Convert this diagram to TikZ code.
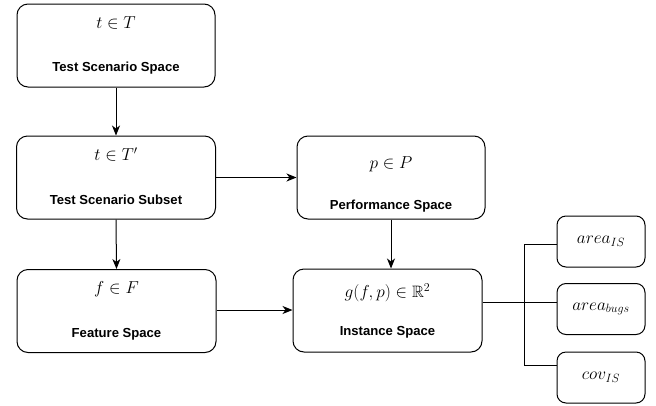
\documentclass[tikz,border=0pt]{standalone}
\usepackage{amssymb}
\usepackage{fontspec}
\setsansfont{Liberation Sans}
\usetikzlibrary{arrows.meta,calc}
\tikzset{
  bigbox/.style={draw, line width=1pt, rounded corners=11pt, inner sep=0pt, minimum width=#1, minimum height=83pt},
  smallbox/.style={draw, line width=1pt, rounded corners=9pt, inner sep=0pt, minimum width=88pt, minimum height=51pt, font=\fontsize{16.5}{18}\selectfont},
  mathtxt/.style={inner sep=0pt, font=\fontsize{16.5}{18}\selectfont},
  lbltxt/.style={inner sep=0pt, font=\sffamily\bfseries\fontsize{13.1}{15}\selectfont},
  conn/.style={line width=1pt, -{Stealth[length=10pt,width=8pt,inset=3pt]}},
  plain/.style={line width=1pt}
}
\begin{document}
\begin{tikzpicture}[x=1pt,y=-1pt]
\useasboundingbox (0,0) rectangle (656,405);
\node[bigbox=198pt] (b1) at (116,45.5) {};
\node[bigbox=199pt] (b2) at (116,177.5) {};
\node[bigbox=188pt] (perf) at (391,177.5) {};
\node[bigbox=189pt] (inst) at (387.5,310.5) {};
\node[bigbox=199pt] (feat) at (116.5,311) {};
\node[smallbox] (sis) at (601,241.5) {$area_{IS}$};
\node[smallbox] (sbug) at (601,309) {$area_{bugs}$};
\node[smallbox] (scov) at (601,377.5) {$cov_{IS}$};

\node[mathtxt] (m1) at ($(b1.north)+(0,19)$) {$t\in T$};
\node[lbltxt] (l1) at ($(b1.north)+(0,65)$) {Test Scenario Space};
\node[mathtxt] (m2) at ($(b2.north)+(0,19)$) {$t\in T'$};
\node[lbltxt] (l2) at ($(b2.north)+(0,64)$) {Test Scenario Subset};
\node[mathtxt] (m3) at ($(perf.north)+(0,29)$) {$p\in P$};
\node[lbltxt] (l3) at ($(perf.north)+(0,71)$) {Performance Space};
\node[mathtxt] (m4) at ($(inst.north)+(0,24)$) {$g(f,p)\in \mathbb{R}^2$};
\node[lbltxt] (l4) at ($(inst.north)+(0,64)$) {Instance Space};
\node[mathtxt] (m5) at ($(feat.north)+(0,20)$) {$f\in F$};
\node[lbltxt] (l5) at ($(feat.north)+(0,65)$) {Feature Space};

\draw[conn] (b1.south) -- (b2.north);
\draw[conn] (b2.south) -- (feat.north);
\draw[conn] (b2.east) -- (perf.west);
\draw[conn] (perf.south) -- (perf.south |- inst.north);
\draw[conn] (feat.east |- 0,310) -- (inst.west |- 0,310);

\coordinate (j) at (524,302);
\draw[plain] (inst.east |- j) -- (sbug.west |- j);
\draw[plain] (j) |- (sis.west |- 0,244);
\draw[plain] (j) |- (scov.west |- 0,365);
\end{tikzpicture}
\end{document}
